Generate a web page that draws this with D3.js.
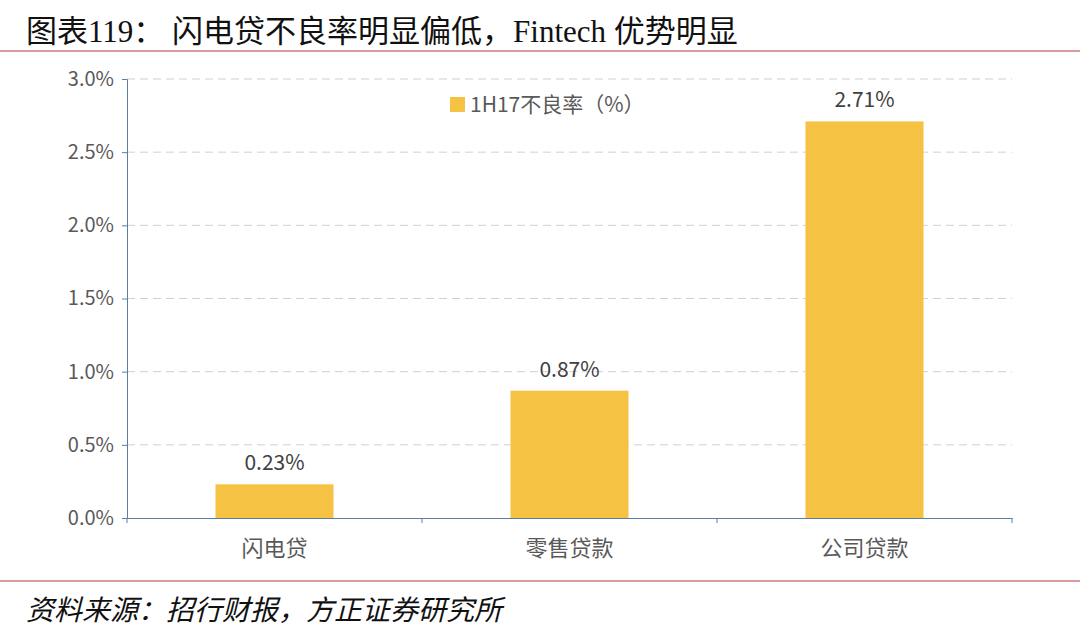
<!DOCTYPE html>
<html><head><meta charset="utf-8">
<script src="https://cdn.jsdelivr.net/npm/d3@7"></script>
<style>body{margin:0;background:#fff}</style>
</head><body>
<svg width="1080" height="635"></svg>
<script>
var categories = ['闪电贷', '零售贷款', '公司贷款'];
var values = [0.23, 0.87, 2.71];
var yTicks = [0, 0.5, 1.0, 1.5, 2.0, 2.5, 3.0];
var seriesName = '1H17不良率（%）';

const svg = d3.select('svg');
const cjk = '"Noto Sans CJK SC", sans-serif';
const serif = '"Liberation Serif", "Noto Sans CJK SC", serif';

svg.append('text').attr('x', 26).attr('y', 42)
    .attr('font-family', serif).attr('font-size', 31).attr('fill', '#111')
    .text('图表119：  闪电贷不良率明显偏低，Fintech 优势明显');
svg.append('line').attr('x1', 0).attr('x2', 1080).attr('y1', 51).attr('y2', 51)
    .attr('stroke', '#b5383a').attr('stroke-width', 1.2);
svg.append('line').attr('x1', 0).attr('x2', 1080).attr('y1', 581).attr('y2', 581)
    .attr('stroke', '#b5383a').attr('stroke-width', 1.2);
svg.append('text').attr('x', 26).attr('y', 620)
    .attr('font-family', cjk).attr('font-size', 28).attr('font-style', 'italic').attr('fill', '#111')
    .text('资料来源：招行财报，方正证券研究所');

const mLeft = 127, mRight = 1012, mTop = 79, mBottom = 518;
const x = d3.scaleBand().domain(categories).range([mLeft, mRight]).paddingInner(0.6).paddingOuter(0.3);
const y = d3.scaleLinear().domain([0, 3.0]).range([mBottom, mTop]);

// grid
svg.append('g').selectAll('line').data(yTicks.filter(d => d > 0)).enter().append('line')
    .attr('x1', mLeft).attr('x2', mRight).attr('y1', d => y(d)).attr('y2', d => y(d))
    .attr('stroke', '#d0d0d0').attr('stroke-dasharray', '8,5').attr('stroke-width', 1);

const yAxis = svg.append('g').attr('transform', `translate(${mLeft},0)`)
    .call(d3.axisLeft(y).tickValues(yTicks).tickFormat(d => d.toFixed(1) + '%').tickSize(5).tickPadding(8));
yAxis.selectAll('path,line').attr('stroke', '#5a7ea5');
yAxis.selectAll('text').attr('font-family', cjk).attr('font-size', 20).attr('fill', '#595959');

const xb = d3.scalePoint().domain(d3.range(4)).range([mLeft, mRight]);
const xAxis = svg.append('g').attr('transform', `translate(0,${mBottom})`)
    .call(d3.axisBottom(x).tickSize(0).tickPadding(22));
xAxis.select('path').attr('stroke', '#5a7ea5');
xAxis.selectAll('text').attr('font-family', cjk).attr('font-size', 22).attr('fill', '#595959');
svg.append('g').selectAll('line').data(d3.range(4)).enter().append('line')
    .attr('x1', d => xb(d)).attr('x2', d => xb(d)).attr('y1', mBottom).attr('y2', mBottom + 5)
    .attr('stroke', '#5a7ea5');

const bars = svg.append('g').selectAll('g').data(values).enter().append('g');
bars.append('rect')
    .attr('x', (d, i) => x(categories[i])).attr('width', x.bandwidth())
    .attr('y', d => y(d)).attr('height', d => mBottom - y(d))
    .attr('fill', '#f5c243');
bars.append('text')
    .attr('x', (d, i) => x(categories[i]) + x.bandwidth() / 2).attr('y', d => y(d) - 14)
    .attr('text-anchor', 'middle').attr('font-family', cjk).attr('font-size', 21).attr('fill', '#404040')
    .text(d => d.toFixed(2) + '%');

svg.append('rect').attr('x', 450).attr('y', 97).attr('width', 15).attr('height', 15).attr('fill', '#f5c243');
svg.append('text').attr('x', 470).attr('y', 112)
    .attr('font-family', cjk).attr('font-size', 21).attr('fill', '#595959').text(seriesName);
</script>
</body></html>
